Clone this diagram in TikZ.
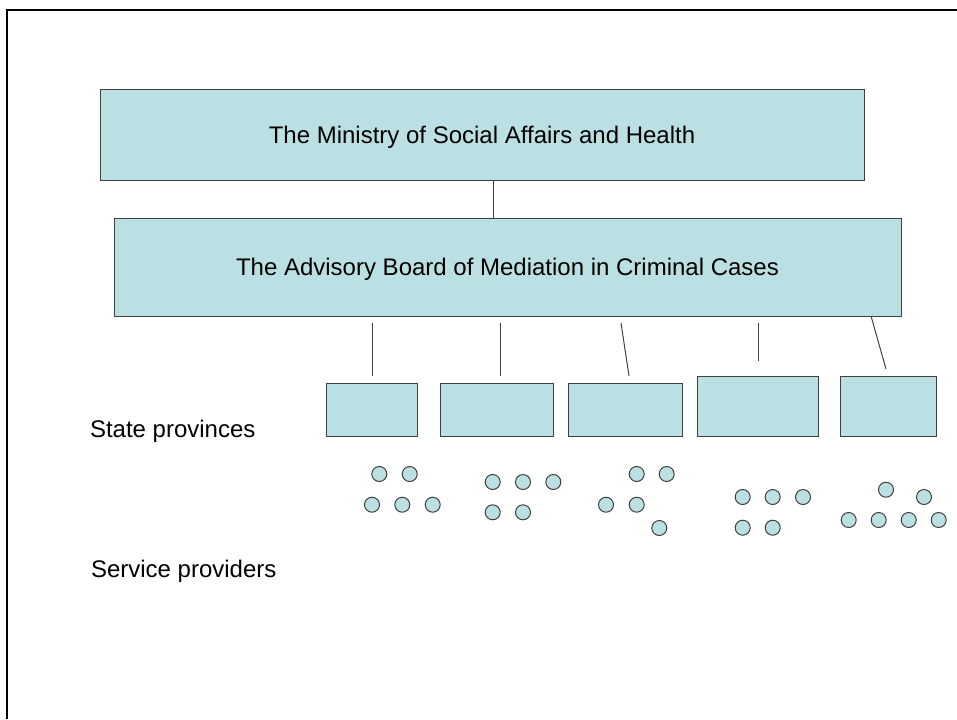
\documentclass[tikz,border=0pt]{standalone}
\usepackage{fontspec}
\setmainfont{Liberation Sans}
\usetikzlibrary{positioning}

\definecolor{boxfill}{RGB}{187,224,227}
\definecolor{boxline}{RGB}{64,64,64}

\tikzset{every picture/.style={line width=0.75pt}}
\tikzset{
  orgbox/.style={draw=boxline, fill=boxfill, inner sep=0pt, text depth=0pt, font=\fontsize{18}{21.6}\selectfont},
  provbox/.style={draw=boxline, fill=boxfill, inner sep=0pt, minimum height=39.5pt},
  provider/.style={circle, draw=boxline, fill=boxfill, inner sep=0pt, minimum size=11.25pt},
  link/.style={draw=boxline, line width=0.75pt},
  plain/.style={font=\fontsize{18}{21.6}\selectfont, inner sep=0pt, anchor=base west}
}

\begin{document}
\begin{tikzpicture}[x=0.75pt,y=0.75pt,yscale=-1,xscale=1]
	\useasboundingbox (0,0) rectangle (957,719);

	%Frame
	\draw [line width=1.6pt]  (7,719) -- (7,10) -- (957,10) ;

	%Shape: Rectangle [id:ministry]
	\node [orgbox, minimum width=573pt, minimum height=68.25pt] (ministry) at (482,134.5) {The Ministry of Social Affairs and Health};
	%Shape: Rectangle [id:board]
	\node [orgbox, minimum width=590.25pt, minimum height=73.5pt] (board) at (507.5,267) {The Advisory Board of Mediation in Criminal Cases};
	%Straight Lines [id:ministry-board]
	\draw [link]  (ministry.south -| 493,0) -- (board.north -| 493,0) ;

	%Shape: Rectangle [id:provinces]
	\node [provbox, minimum width=68.25pt] (prov1) at (371.8,410.3) {};
	\node [provbox, minimum width=85pt] (prov2) at (496.7,410.3) {};
	\node [provbox, minimum width=85.5pt] (prov3) at (625.3,410.3) {};
	\node [provbox, minimum width=91pt, minimum height=45.3pt] (prov4) at (757.7,406.5) {};
	\node [provbox, minimum width=72pt, minimum height=45.3pt] (prov5) at (888.7,406.5) {};

	%Straight Lines [id:board-provinces]
	\coordinate (top1) at (372,323);  \coordinate (bot1) at (372,376);
	\coordinate (top2) at (500,323);  \coordinate (bot2) at (500,376);
	\coordinate (top3) at (621,323);  \coordinate (bot3) at (629,376);
	\coordinate (top4) at (758,323);  \coordinate (bot4) at (758,361);
	\coordinate (top5) at (871,316);  \coordinate (bot5) at (886,369);
	\foreach \i in {1,...,5}
		\draw [link]  (top\i) -- (bot\i) ;

	%Shape: Circles [id:providers]
	\foreach \name/\px/\py in {a1/379.3/474, a2/409.7/474, a3/372/504.7, a4/402.3/504.7, a5/432.7/504.7,
		b1/492.7/482, b2/523/482, b3/553.3/482, b4/492.7/512.3, b5/523/512.3,
		c1/636.7/474, c2/666.7/474, c3/606/504.7, c4/636.7/504.7, c5/659.3/528,
		d1/742.7/497, d2/772.7/497, d3/803/497, d4/742.7/527.7, d5/772.7/527.7,
		e1/886/489.7, e2/924/497, e3/848.7/520, e4/878.7/520, e5/908.7/520, e6/938.7/520}
		\node [provider] (\name) at (\px,\py) {};

	% Text Node
	\node [plain] (statelabel) at (89.5,437) {State provinces};
	% Text Node
	\node [plain] (servicelabel) at (90.5,577) {Service providers};

\end{tikzpicture}
\end{document}
